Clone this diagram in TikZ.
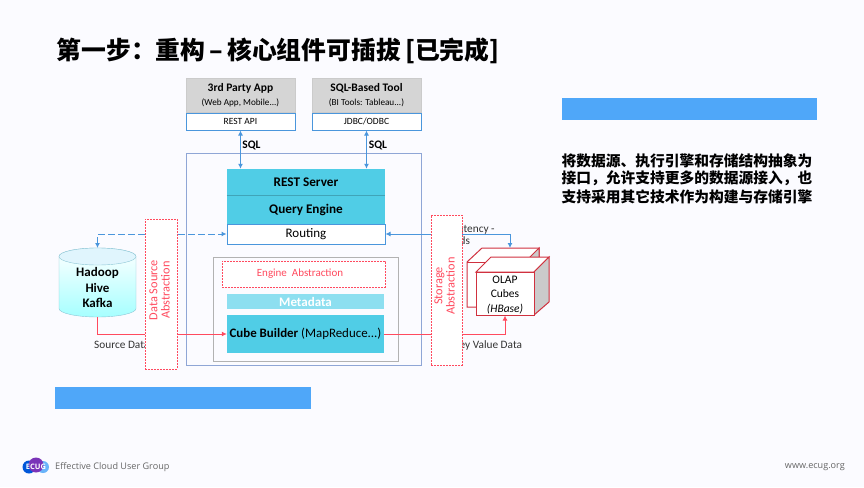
\documentclass[tikz,border=0pt]{standalone}
\usepackage{fontspec}
\setmainfont{Carlito}
\newfontfamily\cjk{Noto Sans CJK SC}
\newfontfamily\footfont{Open Sans}
\usetikzlibrary{arrows.meta}
\definecolor{pagebg}{HTML}{FBFBFF}
\definecolor{lineblue}{HTML}{4A96DC}
\definecolor{frameblue}{HTML}{8FA6D6}
\definecolor{barblue}{HTML}{4FA7F9}
\definecolor{cyanbox}{HTML}{50CDE6}
\definecolor{cyanlight}{HTML}{8DDFF0}
\definecolor{absred}{HTML}{FF4A5E}
\definecolor{cubered}{HTML}{D0313F}
\definecolor{cubegray}{HTML}{CBCBCB}
\definecolor{drumedge}{HTML}{8FC7D6}
\newcommand{\fsize}[1]{\fontsize{#1}{#1}\selectfont}
\tikzset{
  clientbox/.style={fill=cubegray!80, draw=cubegray, minimum width=109pt, minimum height=34pt, align=center, inner sep=0pt},
  portbox/.style={fill=white, draw=lineblue, line width=1pt, minimum width=109pt, minimum height=17pt, inner sep=0pt, font=\fsize{9.5}},
  enginebox/.style={fill=cyanbox, minimum width=158pt, inner sep=0pt, font=\fsize{13.2}\bfseries},
  absline/.style={draw=absred, line width=.9pt, dash pattern=on 2pt off 1pt},
  absbox/.style={fill=white, absline, inner sep=0pt},
  abstext/.style={rotate=90, text=absred, align=center, inner sep=0pt, font=\fsize{12.3}},
  bluebar/.style={fill=barblue, inner sep=0pt},
  sqlarrow/.style={lineblue, line width=1pt, {Latex[length=5pt,width=5pt]}-{Latex[length=5pt,width=5pt]}},
  redarrow/.style={absred, line width=1pt, -{Latex[length=5pt,width=5pt]}},
  caption/.style={font=\fsize{11.3}, text=black!80, inner sep=0pt}
}
\begin{document}
\begin{tikzpicture}[x=1pt, y=-1pt]
  \path[fill=pagebg] (0,0) rectangle (864,487);
  \node at (278,51) [inner sep=0pt] (title) {\cjk\bfseries\fsize{24.8}第一步：重构\,–\,核心组件可插拔\,[已完成]};
  % clients
  \node at (240.5,95) [clientbox] (app) {\fsize{11.5}\bfseries 3rd Party App\\[2pt]\fsize{9.2}(Web App, Mobile...)};
  \node at (366.5,95) [clientbox] (tool) {\fsize{11.5}\bfseries SQL-Based Tool\\[2pt]\fsize{9.2}(BI Tools: Tableau...)};
  \node at (240.5,121.5) [portbox] (restapi) {REST API};
  \node at (366.5,121.5) [portbox] (jdbc) {JDBC/ODBC};
  % frames
  \node at (303.5,259) [draw=frameblue, line width=1pt, minimum width=235pt, minimum height=212pt] (frame) {};
  \node at (305.5,309) [draw=black!30, line width=1pt, minimum width=185pt, minimum height=104pt] (buildframe) {};
  \node at (306,182) [enginebox, minimum height=26pt] (rest) {REST Server};
  \node at (306,209.5) [enginebox, minimum height=29pt] (query) {Query Engine};
  \draw[cyanbox!80!black, line width=.4pt] (rest.south west) -- (rest.south east);
  \node at (306,234) [fill=white, draw=lineblue, line width=1pt, minimum width=158pt, minimum height=20pt, inner sep=0pt, font=\fsize{13}] (routing) {\raisebox{-1pt}{Routing}};
  \node at (303.5,274) [fill=white, absline, minimum width=163pt, minimum height=26pt, inner sep=0pt, text=absred, font=\fsize{11}] (engineabs) {Engine\ \ Abstraction\hspace*{7pt}};
  \node at (305.5,301.5) [fill=cyanlight, minimum width=157pt, minimum height=15pt, inner sep=0pt, text=white, font=\fsize{13}\bfseries] (meta) {Metadata};
  \node at (305.5,334) [fill=cyanbox, minimum width=157pt, minimum height=38pt, inner sep=0pt, font=\fsize{12.9}] (builder) {\bfseries Cube Builder \mdseries(MapReduce...)};
  % source drum
  \path[draw=drumedge, top color=white, bottom color=cyan!35] (59,256.5) -- (59,308.5) arc[start angle=180, end angle=360, x radius=38.5pt, y radius=8.5pt] -- (136,256.5) arc[start angle=0, end angle=180, x radius=38.5pt, y radius=8.5pt] -- cycle;
  \draw[drumedge, fill=cyan!12] (97.5,256.5) ellipse[x radius=38.5pt, y radius=8.5pt];
  \node at (97.5,287.5) [align=center, inner sep=0pt, font=\fsize{13}\bfseries] (source) {Hadoop\\[2.3pt]Hive\\[2.3pt]Kafka};
  \coordinate (sourcetop) at (97.5,248);
  \coordinate (sourcebottom) at (97.5,317);
  % cubes
  \draw[cubered, line width=1pt, fill=white] (467,262) -- (482,248) -- (539,248) -- (539,296) -- (525,307) -- (467,307) -- cycle;
  \draw[cubered, line width=1pt, fill=cubegray] (525,262) -- (539,248) -- (539,280) -- (525,290) -- cycle;
  \draw[cubered, line width=1pt] (467,262) -- (525,262);
  \draw[cubered, line width=1pt, fill=white] (476,272) -- (491,257) -- (549,257) -- (534,272) -- cycle;
  \draw[cubered, line width=1pt, fill=cubegray] (534,272) -- (549,257) -- (549,302) -- (534,315) -- cycle;
  \node at (505,293.5) [fill=white, draw=cubered, line width=1pt, minimum width=58pt, minimum height=43pt, inner sep=0pt] (cube) {};
  \node at (505,295) [align=center, inner sep=0pt, font=\fsize{11.5}] (cubetext) {OLAP\\[3pt]Cubes\\[3pt]\itshape(HBase)};
  \coordinate (cubetop) at (510,248);
  % connectors
  \draw[sqlarrow] (restapi.south) -- (restapi.south |- rest.north);
  \draw[sqlarrow] (jdbc.south) -- (jdbc.south |- rest.north);
  \draw[sqlarrow, dash pattern=on 7pt off 3pt] (sourcetop) |- (routing.west);
  \draw[sqlarrow] (cubetop) |- (routing.east);
  \draw[redarrow] (sourcebottom) |- (builder.west);
  \draw[redarrow] (builder.east) -| (cube.south);
  % labels
  \node at (251.5,145) [inner sep=0pt, font=\fsize{11.5}\bfseries] (sqlleft) {SQL};
  \node at (378,145) [inner sep=0pt, font=\fsize{11.5}\bfseries] (sqlright) {SQL};
  \node at (94,345) [caption, anchor=west] (sourcedata) {Source Data};
  \node at (432,235) [caption, anchor=west, align=left] (latency) {Low Latency -\\[1.5pt]Seconds};
  \node at (488,345) [caption] (keyvalue) {Key Value Data};
  % abstractions
  \node at (161,294) [absbox, minimum width=32pt, minimum height=150pt] (sourceabs) {};
  \node at (159.5,290) [abstext] (sourceabstext) {Data Source\\Abstraction};
  \node at (446.5,290) [absbox, minimum width=31pt, minimum height=150pt] (storageabs) {};
  \node at (444.5,286) [abstext] (storageabstext) {Storage\\Abstraction};
  % bars and text
  \node at (689.5,109) [bluebar, minimum width=255pt, minimum height=22pt] (topbar) {};
  \node at (183,398) [bluebar, minimum width=256pt, minimum height=22pt] (bottombar) {};
  \node at (687,179) [align=left, inner sep=0pt, font=\cjk\bfseries\fsize{14.75}] (note) {将数据源、执行引擎和存储结构抽象为\\[2.6pt]接口，允许支持更多的数据源接入，也\\[2.6pt]支持采用其它技术作为构建与存储引擎};
  % footer
  \foreach \cx/\cy/\cr/\cc in {43/467/6/barblue!85, 29/467/6.5/blue!60!cyan!85!black, 36/465/7.5/violet!70!blue!80}
    \fill[\cc] (\cx,\cy) circle (\cr);
  \node at (36,467) [inner sep=0pt, text=white, font=\footfont\bfseries\fsize{7.5}] (logo) {ECUG};
  \node at (55,467) [anchor=west, inner sep=0pt, text=black!60, font=\footfont\fsize{9.1}] (group) {Effective Cloud User Group};
  \node at (845,467) [anchor=east, inner sep=0pt, text=black!60, font=\footfont\fsize{9.1}] (site) {www.ecug.org};
\end{tikzpicture}
\end{document}
